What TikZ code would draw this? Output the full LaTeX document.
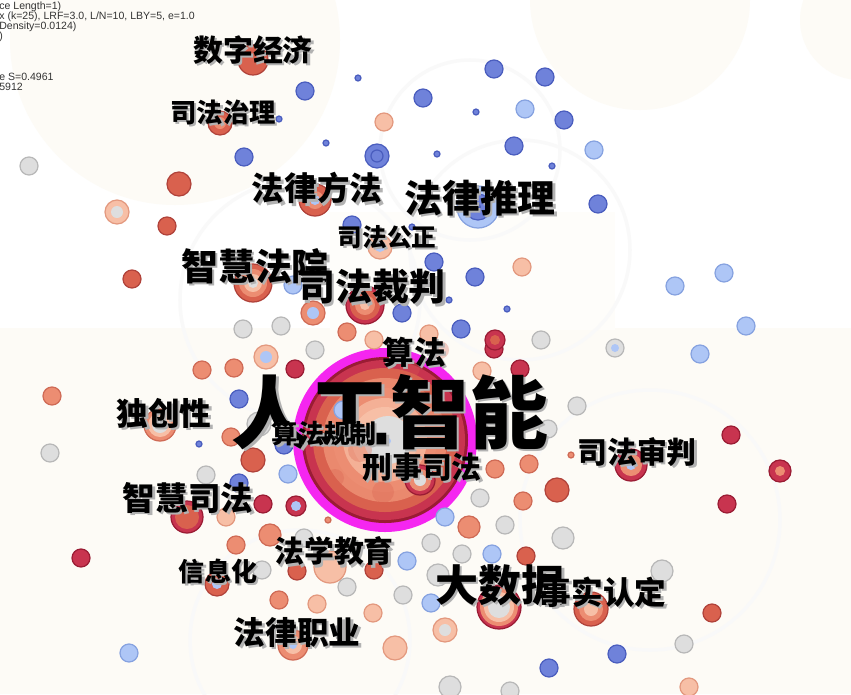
\documentclass[tikz,border=0pt]{standalone}
\usepackage{fontspec}
\newfontfamily\cjk{Noto Sans CJK SC}
\newfontfamily\infofont{Liberation Sans}
\definecolor{crim}{HTML}{C8344F}
\definecolor{crimD}{HTML}{9A1C34}
\definecolor{redd}{HTML}{D9614E}
\definecolor{reddD}{HTML}{B0423A}
\definecolor{salm}{HTML}{EC8D72}
\definecolor{salmD}{HTML}{CF6A55}
\definecolor{peach}{HTML}{F7BFA6}
\definecolor{peachD}{HTML}{E3987E}
\definecolor{grey}{HTML}{DEDEDE}
\definecolor{greyD}{HTML}{B8B8B8}
\definecolor{lblue}{HTML}{AEC6F6}
\definecolor{lblueD}{HTML}{86A2E0}
\definecolor{blue}{HTML}{6F82DA}
\definecolor{blueD}{HTML}{4A5DBE}
\definecolor{hot}{HTML}{F526F0}
\definecolor{cream}{HTML}{FDFBF6}
\tikzset{
  kw/.style={inner sep=0pt, text=black},
  kwshade/.style={inner sep=0pt, text=black!30},
  info/.style={anchor=west, inner sep=0pt, text=black!80,
    font=\infofont\fontsize{6}{6}\selectfont},
  cCrim/.style={fill=crim, draw=crimD, line width=0.7pt},
  cRed/.style={fill=redd, draw=reddD, line width=0.7pt},
  cSalm/.style={fill=salm, draw=salmD, line width=0.7pt},
  cPeach/.style={fill=peach, draw=peachD, line width=0.7pt},
  cGrey/.style={fill=grey, draw=greyD, line width=0.7pt},
  cLblue/.style={fill=lblue, draw=lblueD, line width=0.7pt},
  cBlue/.style={fill=blue, draw=blueD, line width=0.7pt},
}
\begin{document}
\begin{tikzpicture}[x=0.02cm,y=-0.02cm]
\useasboundingbox (0,0) rectangle (851,694);
\clip (0,0) rectangle (851,694);
% background
\fill[white] (0,0) rectangle (851,694);
\fill[cream] (175,40) circle (165);
\fill[cream] (640,0) circle (110);
\fill[cream] (860,20) circle (60);
\fill[cream] (0,328) rectangle (851,694);
\fill[cream!60] (330,212) rectangle (615,330);
\foreach \cx/\cy/\cr in {300/300/120, 520/250/110, 470/150/90, 650/520/130, 300/640/110}
  \draw[black!2.5, line width=2pt] (\cx,\cy) circle (\cr);

% central node
\fill[hot] (385,440) circle (92);
\fill[crimD] (385,440) circle (83);
\fill[crim] (385,440) circle (80);
\fill[redd] (385,440) circle (72);
\fill[salm!90!redd] (385,440) circle (62);
\fill[salm] (385,440) circle (52);
\fill[peach!70!salm] (385,440) circle (42);
\fill[peach] (385,440) circle (33);
\fill[grey] (388,440) circle (24);
\fill[lblue] (388,441) circle (3);
\foreach \x/\y/\r in {343/410/9, 360/450/12, 410/368/10, 428/398/10, 335/478/9, 383/492/11, 440/350/9, 445/420/8}
  \fill[redd, opacity=0.3] (\x,\y) circle (\r);

% nodes
\foreach \x/\y in {305/91, 494/69, 545/77, 423/98, 564/120, 244/157, 514/146, 598/204, 352/225, 434/262, 475/277, 402/313, 461/329, 239/399, 284/445, 239/483, 617/654, 549/668}
  \filldraw[cBlue] (\x,\y) circle (9);
\foreach \x/\y in {358/78, 476/112, 279/119, 326/143, 437/154, 552/166, 412/227, 449/300, 507/309, 199/444}
  \filldraw[cBlue] (\x,\y) circle (3);
\filldraw[cBlue] (377,156) circle (12);
\filldraw[cBlue] (377,156) circle (6);
\foreach \x/\y in {525/109, 594/150, 293/285, 675/286, 724/273, 746/326, 700/354, 288/474, 445/517, 407/561, 492/554, 431/603, 129/653, 343/410}
  \filldraw[cLblue] (\x,\y) circle (9);
\foreach \x/\y in {29/166, 243/329, 281/326, 541/340, 315/350, 50/453, 206/475, 480/498, 505/525, 577/406, 548/429, 304/538, 431/543, 462/554, 262/570, 347/587, 403/595, 684/644, 510/691}
  \filldraw[cGrey] (\x,\y) circle (9);
\foreach \x/\y in {563/538, 438/575, 662/571, 450/687}
  \filldraw[cGrey] (\x,\y) circle (11);
\foreach \x/\y in {234/368, 202/370, 52/396, 231/437, 523/501, 529/464, 495/469, 236/545, 279/600, 347/332}
  \filldraw[cSalm] (\x,\y) circle (9);
\foreach \x/\y in {270/535, 469/527}
  \filldraw[cSalm] (\x,\y) circle (11);
\foreach \x/\y in {328/520, 571/455}
  \filldraw[cSalm] (\x,\y) circle (3);
\foreach \x/\y in {384/122, 522/267, 429/334, 374/340, 482/371, 226/517, 317/604, 373/613, 689/687}
  \filldraw[cPeach] (\x,\y) circle (9);
\filldraw[cPeach] (395,648) circle (12);
\filldraw[cPeach] (330,567) circle (16);
\foreach \x/\y in {167/226, 132/279, 297/571, 374/570, 526/556, 712/613}
  \filldraw[cRed] (\x,\y) circle (9);
\foreach \x/\y in {253/460, 557/490, 179/184}
  \filldraw[cRed] (\x,\y) circle (12);
\foreach \x/\y in {295/369, 520/369, 494/349, 263/504, 731/435, 727/504, 81/558}
  \filldraw[cCrim] (\x,\y) circle (9);

% nodes with rings
\filldraw[cRed] (253,60) circle (15);
\filldraw[cRed] (220,123) circle (12);
\fill[salm] (220,123) circle (6);
\filldraw[cPeach] (117,212) circle (12);
\fill[grey] (117,212) circle (6);
\filldraw[cRed] (315,200) circle (16);
\fill[salm] (315,200) circle (9);
\fill[lblue] (315,200) circle (5);
\filldraw[cLblue] (478,207) circle (21);
\filldraw[cBlue] (478,207) circle (13);
\fill[blueD] (478,207) circle (3);
\filldraw[cPeach] (380,247) circle (12);
\fill[lblue] (380,247) circle (5);
\filldraw[cRed] (253,283) circle (19);
\fill[salm] (253,283) circle (14);
\fill[peach] (253,283) circle (9);
\fill[grey] (253,283) circle (5);
\filldraw[cCrim] (365,305) circle (19);
\fill[redd] (365,305) circle (15);
\fill[salm] (365,305) circle (10);
\fill[peach] (365,305) circle (5);
\filldraw[cSalm] (313,313) circle (12);
\fill[lblue] (313,313) circle (6);
\filldraw[cCrim] (495,340) circle (10);
\fill[redd] (495,340) circle (5);
\filldraw[cGrey] (615,348) circle (9);
\fill[lblue] (615,348) circle (4);
\filldraw[cPeach] (266,357) circle (12);
\fill[lblue] (266,357) circle (6);
\filldraw[cSalm] (160,425) circle (16);
\fill[peach] (160,425) circle (12);
\fill[grey] (160,425) circle (8);
\filldraw[cGrey] (259,424) circle (12);
\fill[lblue] (259,424) circle (6);
\filldraw[cCrim] (187,517) circle (16);
\fill[redd] (187,517) circle (12);
\filldraw[cCrim] (296,506) circle (10);
\fill[lblue] (296,506) circle (5);
\filldraw[cCrim] (420,480) circle (15);
\fill[salm] (420,480) circle (11);
\fill[grey] (420,480) circle (6);
\filldraw[cCrim] (631,465) circle (16);
\fill[salm] (631,465) circle (11);
\fill[lblue] (631,465) circle (5);
\filldraw[cCrim] (780,471) circle (11);
\fill[salm] (780,471) circle (5);
\filldraw[cRed] (217,584) circle (12);
\fill[lblue] (217,584) circle (5);
\filldraw[cCrim] (499,607) circle (22);
\fill[salm] (499,607) circle (19);
\fill[peach] (499,607) circle (15);
\fill[grey] (499,607) circle (11);
\filldraw[cRed] (591,609) circle (17);
\fill[salm] (591,609) circle (12);
\fill[peach] (591,609) circle (7);
\filldraw[cPeach] (445,630) circle (12);
\fill[grey] (445,630) circle (6);
\filldraw[cSalm] (293,645) circle (15);
\fill[peach] (293,645) circle (9);
\fill[lblue] (293,645) circle (4);

% keyword labels
\foreach \n/\x/\y/\s/\t in {
  ai/390/412/45pt/人工智能,
  digital/253/50/17pt/数字经济,
  governance/223/112/15pt/司法治理,
  method/317/188/18.5pt/法律方法,
  reasoning/480/198/21.5pt/法律推理,
  justice/387/237/14pt/司法公正,
  smartcourt/255/266/21pt/智慧法院,
  adjudication/372/287/21pt/司法裁判,
  algorithm/414/352/18pt/算法,
  originality/164/413/18pt/独创性,
  regulation/324/433/14.8pt/算法规制,
  criminal/422/467/17pt/刑事司法,
  trial/637/452/17pt/司法审判,
  smartjud/188/498/18.5pt/智慧司法,
  education/334/551/17pt/法学教育,
  informat/218/571/14.8pt/信息化,
  bigdata/500/585/24.5pt/大数据,
  facts/603/592/18pt/事实认定,
  profession/297/632/18pt/法律职业}
{
  \node[kwshade, font=\cjk\bfseries\fontsize{\s}{\s}\selectfont] at (\x+2.5,\y+2.5) {\t};
  \node[kw, font=\cjk\bfseries\fontsize{\s}{\s}\selectfont] (\n) at (\x,\y) {\t};
}

% legend text
\node[info] (info1) at (-1,7) {ce Length=1)};
\node[info] (info2) at (-1,17) {x (k=25), LRF=3.0, L/N=10, LBY=5, e=1.0};
\node[info] (info3) at (-1,27) {Density=0.0124)};
\node[info] (info4) at (-1,37) {)};
\node[info] (info5) at (-1,77) {e S=0.4961};
\node[info] (info6) at (-1,87) {5912};
\end{tikzpicture}
\end{document}
